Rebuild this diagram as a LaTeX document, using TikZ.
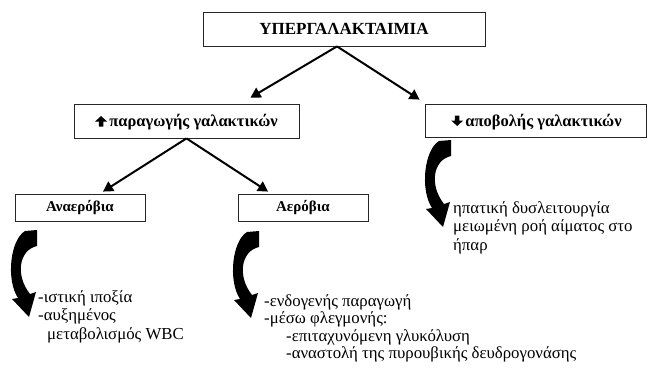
\documentclass[tikz,border=0pt]{standalone}
\usepackage{fontspec}
\setmainfont{Liberation Serif}
\newfontfamily\grfont{Liberation Serif}
\usetikzlibrary{arrows.meta,calc}
\tikzset{
  box/.style={draw=black!85, line width=0.8pt, fill=white, inner sep=0pt, font=\grfont\fontsize{15}{17}\selectfont\bfseries},
  lbl/.style={inner sep=0pt, font=\grfont\fontsize{16.5}{18}\selectfont\bfseries},
  arr/.style={line width=2pt, -{Triangle[length=10pt,width=11pt]}},
  txt/.style={anchor=base west, inner sep=0pt, font=\grfont\fontsize{16.8}{18}\selectfont},
  curvarr/.style={fill=black},
  pics/blockup/.style={code={\fill (-2.3,0) -- (-2.3,-5) -- (-6,-5) -- (0,-10.5) -- (6,-5) -- (2.3,-5) -- (2.3,0) -- cycle;}},
  pics/blockdown/.style={code={\fill (-2.3,-10.5) -- (-2.3,-5.5) -- (-6,-5.5) -- (0,0) -- (6,-5.5) -- (2.3,-5.5) -- (2.3,-10.5) -- cycle;}},
}
\begin{document}
\begin{tikzpicture}[x=1pt,y=-1pt]
\useasboundingbox (0,0) rectangle (648,370);
% boxes
\node[box, minimum width=282pt, minimum height=34pt, font=\grfont\fontsize{17}{19}\selectfont\bfseries] (top) at (344,29) {ΥΠΕΡΓΑΛΑΚΤΑΙΜΙΑ};
\node[box, minimum width=225pt, minimum height=34pt] (prod) at (186.5,121) {};
\node[lbl, anchor=base] (prodt) at ([xshift=7pt,yshift=-5.5pt]prod.center) {παραγωγής γαλακτικών};
\pic at ([xshift=-8pt]prodt.base west) {blockup};
\node[box, minimum width=221pt, minimum height=33pt] (elim) at (535.5,120.5) {};
\node[lbl, anchor=base] (elimt) at ([xshift=8pt,yshift=-5.5pt]elim.center) {αποβολής γαλακτικών};
\pic at ([xshift=-8pt]elimt.base west) {blockdown};
\node[box, minimum width=130pt, minimum height=27pt] (anaer) at (80,207.5) {Αναερόβια};
\node[box, minimum width=130pt, minimum height=27pt] (aer) at (303,207.5) {Αερόβια};
% connectors
\coordinate (tops) at ([xshift=-7pt]top.south);
\draw[arr] (tops) -- ([xshift=64pt,yshift=6pt]prod.north);
\draw[arr] (tops) -- ([xshift=-5pt,yshift=4pt]elim.north west);
\draw[arr] (prod.south) -- ([xshift=23pt,yshift=2pt]anaer.north);
\draw[arr] (prod.south) -- ([xshift=-35pt,yshift=2pt]aer.north);
% curved arrows
\foreach \nm/\px/\py in {ca/25/231, cb/247/232, cc/439/141}{
  \coordinate (\nm) at (\px,\py);
  \fill[curvarr, shift={(\nm)}] (0,0) .. controls (-15,9) and (-19,49) .. (-7,67)
     -- (-13,68) -- (4,86) -- (11,61) -- (5,63)
     .. controls (-10,44) and (-6,19) .. (12,15) -- (12,-1) -- cycle;
}
% texts
\node[txt] (a1) at (38,302) {-ιστική ιποξία};
\node[txt] (a2) at (38,320.5) {-αυξημένος};
\node[txt] (a3) at (47,339) {μεταβολισμός WBC};
\node[txt] (b1) at (264,306) {-ενδογενής παραγωγή};
\node[txt] (b2) at (264,323.5) {-μέσω φλεγμονής:};
\node[txt] (b3) at (286,341) {-επιταχυνόμενη γλυκόλυση};
\node[txt] (b4) at (286,358.5) {-αναστολή της πυρουβικής δευδρογονάσης};
\node[txt] (c1) at (453,213) {ηπατική δυσλειτουργία};
\node[txt] (c2) at (453,231.5) {μειωμένη ροή αίματος στο};
\node[txt] (c3) at (453,250) {ήπαρ};
\end{tikzpicture}
\end{document}
